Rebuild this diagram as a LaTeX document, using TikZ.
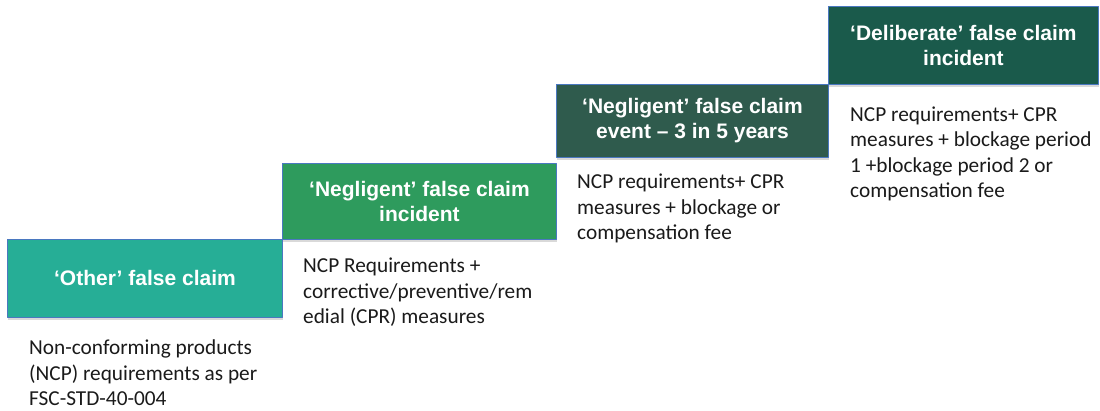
\documentclass[tikz,border=0pt]{standalone}
\usepackage{fontspec}
\setmainfont{Carlito}
\newfontfamily\headfont{Liberation Sans}
\usetikzlibrary{shadows}
\definecolor{boxblue}{HTML}{4A78C0}
\definecolor{otherteal}{HTML}{26AE96}
\definecolor{neglgreen}{HTML}{2E9B5D}
\definecolor{eventgreen}{HTML}{2F5B4D}
\definecolor{delibgreen}{HTML}{1A5A4B}
\definecolor{desctext}{HTML}{1A1A1A}
\begin{document}
\begin{tikzpicture}[x=1pt,y=-1pt,line join=round,
	stepbox/.style={draw=boxblue,line width=0.9pt,anchor=north west,inner sep=0pt,
		align=center,text=white,font=\headfont\bfseries\fontsize{21}{25}\selectfont,
		drop shadow={shadow xshift=1pt,shadow yshift=-2.5pt,opacity=0.25,fill=black!60}},
	desc/.style={anchor=base west,inner sep=0pt,align=left,text=desctext,
		font=\fontsize{21.3}{25.5}\selectfont}]
			\useasboundingbox (0,0) rectangle (1100,410);
			% steps, lowest first
			\node [stepbox,fill=otherteal,minimum width=275pt,minimum height=78pt] (other) at (7,239) {‘Other’ false claim};
			\node [stepbox,fill=neglgreen,minimum width=274pt,minimum height=76pt] (negl) at (282,163) {‘Negligent’ false claim\\incident};
			\node [stepbox,fill=eventgreen,minimum width=272pt,minimum height=73pt] (event) at (556,84) {‘Negligent’ false claim\\event – 3 in 5 years};
			\node [stepbox,fill=delibgreen,minimum width=270pt,minimum height=78pt] (delib) at (828,6) {‘Deliberate’ false claim\\incident};
			% consequences under each step (base = last line)
			\node [desc] (otherdesc) at ([xshift=22pt,yshift=-88pt]other.south west) {Non-conforming products\\(NCP) requirements as per\\FSC-STD-40-004};
			\node [desc] (negldesc) at ([xshift=21pt,yshift=-84pt]negl.south west) {NCP Requirements +\\corrective/preventive/rem\\edial (CPR) measures};
			\node [desc] (eventdesc) at ([xshift=21pt,yshift=-82pt]event.south west) {NCP requirements+ CPR\\measures + blockage or\\compensation fee};
			\node [desc] (delibdesc) at ([xshift=22pt,yshift=-113pt]delib.south west) {NCP requirements+ CPR\\measures + blockage period\\1 +blockage period 2 or\\compensation fee};
		\end{tikzpicture}
\end{document}
